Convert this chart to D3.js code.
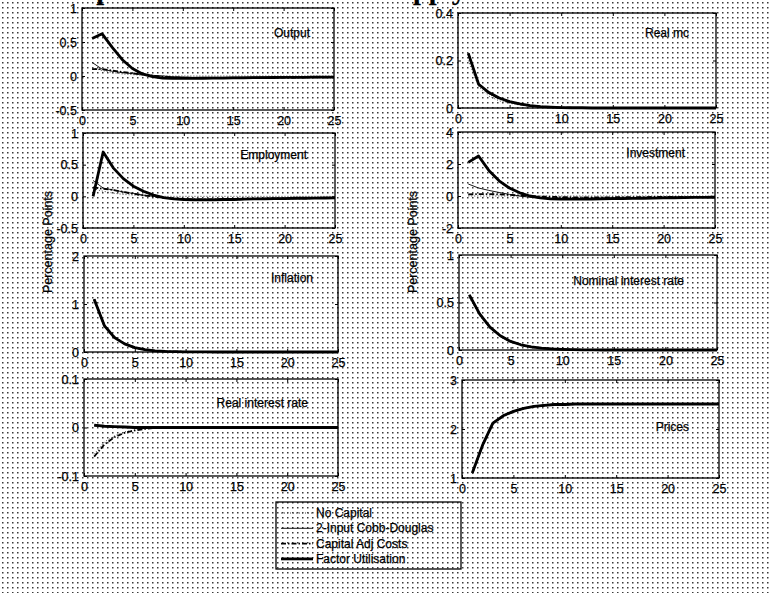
<!DOCTYPE html>
<html>
<head>
<meta charset="utf-8">
<script src="https://cdn.jsdelivr.net/npm/d3@7"></script>
<style>
  body { margin: 0; background: #fff; }
  svg { display: block; }
  text { font-family: "Liberation Sans", Arial, sans-serif; fill: #000; stroke: #000; stroke-width: 0.25px; }
</style>
</head>
<body>
<svg id="chart" width="771" height="593"></svg>
<script>
// periods after the shock
let periods = [1,2,3,4,5,6,7,8,9,10,11,12,13,14,15,16,17,18,19,20,21,22,23,24,25]

let seriesNames = ['No Capital', '2-Input Cobb-Douglas', 'Capital Adj Costs', 'Factor Utilisation']
let xTicks = [0, 5, 10, 15, 20, 25]

/* ---------- Output ---------- */
let outputNC = [0.12,0.08,0.05,0.03,0.02,0.01,0.005,0,0,0,0,0,0,0,0,0,0,0,0,0,0,0,0,0,0]
let outputCD = [0.2,0.1,0.07,0.05,0.035,0.02,0.01,0,-0.01,-0.015,-0.02,-0.02,-0.02,-0.02,-0.018,-0.017,-0.016,-0.015,-0.014,-0.013,-0.012,-0.011,-0.01,-0.01,-0.009]
let outputCA = [0.1,0.1,0.08,0.06,0.04,0.02,0.005,-0.01,-0.02,-0.025,-0.028,-0.03,-0.03,-0.03,-0.029,-0.028,-0.027,-0.025,-0.024,-0.023,-0.022,-0.021,-0.02,-0.019,-0.018]
let outputFU = [0.55,0.62,0.42,0.24,0.11,0.03,-0.01,-0.03,-0.035,-0.035,-0.035,-0.033,-0.03,-0.03,-0.028,-0.027,-0.025,-0.024,-0.022,-0.021,-0.02,-0.019,-0.018,-0.017,-0.016]

/* ---------- Real mc ---------- */
let mcNC = [0.2,0.09,0.05,0.03,0.02,0.012,0.007,0.004,0.002,0.001,0,0,0,0,0,0,0,0,0,0,0,0,0,0,0]
let mcCD = [0.22,0.1,0.06,0.04,0.025,0.015,0.009,0.005,0.003,0.002,0.001,0,0,0,0,0,0,0,0,0,0,0,0,0,0]
let mcCA = [0.23,0.1,0.062,0.04,0.026,0.016,0.01,0.006,0.003,0.002,0.001,0,0,0,0,0,0,0,0,0,0,0,0,0,0]
let mcFU = [0.23,0.1,0.065,0.042,0.027,0.017,0.01,0.006,0.004,0.002,0.001,0.001,0,0,0,0,0,0,0,0,0,0,0,0,0]

/* ---------- Employment ---------- */
let empNC = [0.12,0.08,0.05,0.03,0.02,0.01,0.005,0,0,0,0,0,0,0,0,0,0,0,0,0,0,0,0,0,0]
let empCD = [0.25,0.13,0.1,0.07,0.045,0.02,0,-0.02,-0.03,-0.04,-0.045,-0.045,-0.045,-0.04,-0.04,-0.035,-0.035,-0.03,-0.03,-0.028,-0.026,-0.024,-0.022,-0.02,-0.02]
let empCA = [0.14,0.12,0.1,0.07,0.04,0.015,-0.005,-0.02,-0.035,-0.045,-0.05,-0.05,-0.05,-0.05,-0.048,-0.045,-0.042,-0.04,-0.037,-0.035,-0.033,-0.031,-0.029,-0.027,-0.025]
let empFU = [0,0.7,0.45,0.28,0.16,0.08,0.02,-0.02,-0.04,-0.05,-0.055,-0.055,-0.055,-0.05,-0.05,-0.045,-0.04,-0.04,-0.035,-0.035,-0.03,-0.03,-0.028,-0.026,-0.025]

/* ---------- Investment ---------- */
let invNC = [0,0,0,0,0,0,0,0,0,0,0,0,0,0,0,0,0,0,0,0,0,0,0,0,0]
let invCD = [0.75,0.5,0.35,0.22,0.1,0,-0.08,-0.12,-0.14,-0.15,-0.15,-0.15,-0.14,-0.13,-0.12,-0.11,-0.1,-0.1,-0.09,-0.08,-0.08,-0.07,-0.07,-0.06,-0.06]
let invCA = [0.1,0.12,0.12,0.1,0.07,0.03,0,-0.03,-0.05,-0.07,-0.08,-0.08,-0.08,-0.08,-0.08,-0.07,-0.07,-0.07,-0.06,-0.06,-0.06,-0.05,-0.05,-0.05,-0.04]
let invFU = [2.1,2.5,1.6,0.95,0.5,0.2,0,-0.12,-0.18,-0.2,-0.2,-0.2,-0.19,-0.18,-0.17,-0.16,-0.15,-0.14,-0.13,-0.12,-0.11,-0.1,-0.09,-0.08,-0.08]

/* ---------- Inflation ---------- */
let inflNC = [1.05,0.52,0.28,0.16,0.085,0.045,0.022,0.011,0.006,0.003,0.002,0.001,0,0,0,0,0,0,0,0,0,0,0,0,0]
let inflCD = [1.1,0.55,0.3,0.17,0.09,0.05,0.025,0.013,0.007,0.004,0.002,0.001,0,0,0,0,0,0,0,0,0,0,0,0,0]
let inflCA = [1.1,0.56,0.31,0.17,0.09,0.05,0.025,0.013,0.007,0.004,0.002,0.001,0,0,0,0,0,0,0,0,0,0,0,0,0]
let inflFU = [1.1,0.55,0.3,0.17,0.09,0.05,0.025,0.013,0.007,0.004,0.002,0.001,0,0,0,0,0,0,0,0,0,0,0,0,0]

/* ---------- Nominal interest rate ---------- */
let nomNC = [0.55,0.36,0.23,0.14,0.085,0.05,0.03,0.018,0.011,0.006,0.003,0.002,0.001,0,0,0,0,0,0,0,0,0,0,0,0]
let nomCD = [0.58,0.38,0.24,0.15,0.09,0.055,0.033,0.02,0.012,0.007,0.004,0.002,0.001,0,0,0,0,0,0,0,0,0,0,0,0]
let nomCA = [0.58,0.38,0.24,0.15,0.09,0.055,0.033,0.02,0.012,0.007,0.004,0.002,0.001,0,0,0,0,0,0,0,0,0,0,0,0]
let nomFU = [0.58,0.38,0.24,0.15,0.09,0.055,0.033,0.02,0.012,0.007,0.004,0.002,0.001,0,0,0,0,0,0,0,0,0,0,0,0]

/* ---------- Real interest rate ---------- */
let realNC = [-0.055,-0.03,-0.017,-0.009,-0.005,-0.002,-0.001,0,0,0,0,0,0,0,0,0,0,0,0,0,0,0,0,0,0]
let realCD = [0.003,0.001,0,0,0,0,0,0,0,0,0,0,0,0,0,0,0,0,0,0,0,0,0,0,0]
let realCA = [-0.06,-0.035,-0.02,-0.011,-0.006,-0.003,-0.001,0,0,0,0,0,0,0,0,0,0,0,0,0,0,0,0,0,0]
let realFU = [0.005,0.003,0.002,0.001,0,0,0,0,0,0,0,0,0,0,0,0,0,0,0,0,0,0,0,0,0]

/* ---------- Prices ---------- */
let priceNC = [1.08,1.63,2.08,2.24,2.34,2.41,2.45,2.47,2.49,2.5,2.5,2.51,2.51,2.51,2.51,2.51,2.51,2.51,2.51,2.51,2.51,2.51,2.51,2.51,2.51]
let priceCD = [1.1,1.67,2.12,2.27,2.36,2.42,2.46,2.48,2.5,2.5,2.51,2.51,2.51,2.51,2.51,2.51,2.51,2.51,2.51,2.51,2.51,2.51,2.51,2.51,2.51]
let priceCA = [1.1,1.67,2.12,2.27,2.36,2.42,2.46,2.48,2.5,2.5,2.51,2.51,2.51,2.51,2.51,2.51,2.51,2.51,2.51,2.51,2.51,2.51,2.51,2.51,2.51]
let priceFU = [1.1,1.67,2.12,2.27,2.36,2.42,2.46,2.48,2.5,2.5,2.51,2.51,2.51,2.51,2.51,2.51,2.51,2.51,2.51,2.51,2.51,2.51,2.51,2.51,2.51]

/* -------------- layout -------------- */

let panels = [
    { title: 'Output', yDomain: [-0.5, 1], yTicks: [-0.5, 0, 0.5, 1], series: [outputNC, outputCD, outputCA, outputFU],
      box: [82, 8, 334, 110], titleAt: [310, 37] },
    { title: 'Real mc', yDomain: [0, 0.4], yTicks: [0, 0.2, 0.4], series: [mcNC, mcCD, mcCA, mcFU],
      box: [458, 13, 716, 108], titleAt: [689, 37] },
    { title: 'Employment', yDomain: [-0.5, 1], yTicks: [-0.5, 0, 0.5, 1], series: [empNC, empCD, empCA, empFU],
      box: [83, 133, 335, 228], titleAt: [307, 159] },
    { title: 'Investment', yDomain: [-2, 4], yTicks: [-2, 0, 2, 4], series: [invNC, invCD, invCA, invFU],
      box: [458, 132, 715, 228], titleAt: [685, 157] },
    { title: 'Inflation', yDomain: [0, 2], yTicks: [0, 1, 2], series: [inflNC, inflCD, inflCA, inflFU],
      box: [84, 256, 338, 352], titleAt: [313, 282] },
    { title: 'Nominal interest rate', yDomain: [0, 1], yTicks: [0, 0.5, 1], series: [nomNC, nomCD, nomCA, nomFU],
      box: [459, 255, 717, 350], titleAt: [684, 285] },
    { title: 'Real interest rate', yDomain: [-0.1, 0.1], yTicks: [-0.1, 0, 0.1], series: [realNC, realCD, realCA, realFU],
      box: [84, 379, 338, 476], titleAt: [308, 407] },
    { title: 'Prices', yDomain: [1, 3], yTicks: [1, 2, 3], series: [priceNC, priceCD, priceCA, priceFU],
      box: [462, 380, 719, 478], titleAt: [689, 431] }
]

// line look for each series, in the order of seriesNames
let lineStyles = [
    { width: 1, dash: '1,2', color: '#444' },
    { width: 0.9, dash: null, color: '#000' },
    { width: 1.8, dash: '5,2,1.5,2', color: '#000' },
    { width: 2.8, dash: null, color: '#000' }
]

let svg = d3.select('#chart')

/* -------------- halftone background -------------- */

let pattern = svg.append('defs').append('pattern')
    .attr('id', 'dots')
    .attr('width', 5).attr('height', 5)
    .attr('patternUnits', 'userSpaceOnUse')
pattern.append('rect').attr('width', 5).attr('height', 5).attr('fill', '#fff')
pattern.append('rect').attr('x', 2).attr('y', 2).attr('width', 1.5).attr('height', 1.5).attr('fill', '#3a3a3a')

svg.append('rect').attr('width', 771).attr('height', 593).attr('fill', 'url(#dots)')

// figure title, cut off by the top edge of the scan
svg.append('text')
    .attr('x', 62).attr('y', -1)
    .style('font-family', '"Liberation Serif", "DejaVu Serif", serif')
    .style('font-weight', 'bold').style('font-size', '28px')
    .text('Impulse')
svg.append('text')
    .attr('x', 466).attr('y', -1)
    .attr('text-anchor', 'end')
    .style('font-family', '"Liberation Serif", "DejaVu Serif", serif')
    .style('font-weight', 'bold').style('font-size', '28px')
    .text('and Factor Supply')

/* -------------- panels -------------- */

function fmt(v) { return String(v) }

panels.forEach(function(p) {
    let [x0, y0, x1, y1] = p.box
    let x = d3.scaleLinear().domain([0, 25]).range([x0, x1])
    let y = d3.scaleLinear().domain(p.yDomain).range([y1, y0])

    let g = svg.append('g')

    let line = d3.line()
        .x(function(d, i) { return x(periods[i]) })
        .y(function(d) { return y(d) })

    p.series.forEach(function(values, i) {
        let st = lineStyles[i]
        g.append('path')
            .datum(values)
            .attr('d', line)
            .attr('fill', 'none')
            .attr('stroke', st.color)
            .attr('stroke-width', st.width)
            .attr('stroke-dasharray', st.dash)
            .attr('stroke-linejoin', 'round')
    })

    // ticks pointing inwards, on all four sides
    g.append('g')
        .attr('transform', 'translate(0,' + y1 + ')')
        .call(d3.axisBottom(x).tickValues(xTicks).tickSize(-3).tickPadding(6).tickFormat(fmt))
    g.append('g')
        .attr('transform', 'translate(0,' + y0 + ')')
        .call(d3.axisTop(x).tickValues(xTicks).tickSize(-3).tickFormat(''))
    g.append('g')
        .attr('transform', 'translate(' + x0 + ',0)')
        .call(d3.axisLeft(y).tickValues(p.yTicks).tickSize(-3).tickPadding(5).tickFormat(fmt))
    g.append('g')
        .attr('transform', 'translate(' + x1 + ',0)')
        .call(d3.axisRight(y).tickValues(p.yTicks).tickSize(-3).tickFormat(''))

    g.selectAll('.domain').remove()
    g.selectAll('.tick line').attr('stroke', '#000')
    g.selectAll('.tick text')
        .attr('fill', '#000')
        .style('font-size', '12.5px')
        .style('font-family', '"Liberation Sans", Arial, sans-serif')

    g.append('rect')
        .attr('x', x0).attr('y', y0)
        .attr('width', x1 - x0).attr('height', y1 - y0)
        .attr('fill', 'none').attr('stroke', '#000').attr('stroke-width', 1.3)

    g.append('text')
        .attr('x', p.titleAt[0]).attr('y', p.titleAt[1])
        .attr('text-anchor', 'end')
        .style('font-size', '12px')
        .text(p.title)
})

/* -------------- y labels -------------- */

;[[52, 242], [417, 242]].forEach(function(pos) {
    svg.append('text')
        .attr('transform', 'translate(' + pos[0] + ',' + pos[1] + ') rotate(-90)')
        .attr('text-anchor', 'middle')
        .style('font-size', '12.5px')
        .text('Percentage Points')
})

/* -------------- legend -------------- */

let legend = svg.append('g')
legend.append('rect')
    .attr('x', 276).attr('y', 502).attr('width', 185).attr('height', 67)
    .attr('fill', 'none').attr('stroke', '#000').attr('stroke-width', 1.3)

seriesNames.forEach(function(name, i) {
    let ly = 513 + i * 15.3
    let st = lineStyles[i]
    legend.append('line')
        .attr('x1', 281).attr('x2', 313).attr('y1', ly).attr('y2', ly)
        .attr('stroke', st.color).attr('stroke-width', st.width)
        .attr('stroke-dasharray', st.dash)
    legend.append('text')
        .attr('x', 316).attr('y', ly + 4)
        .style('font-size', '12px')
        .text(name)
})
</script>
</body>
</html>
